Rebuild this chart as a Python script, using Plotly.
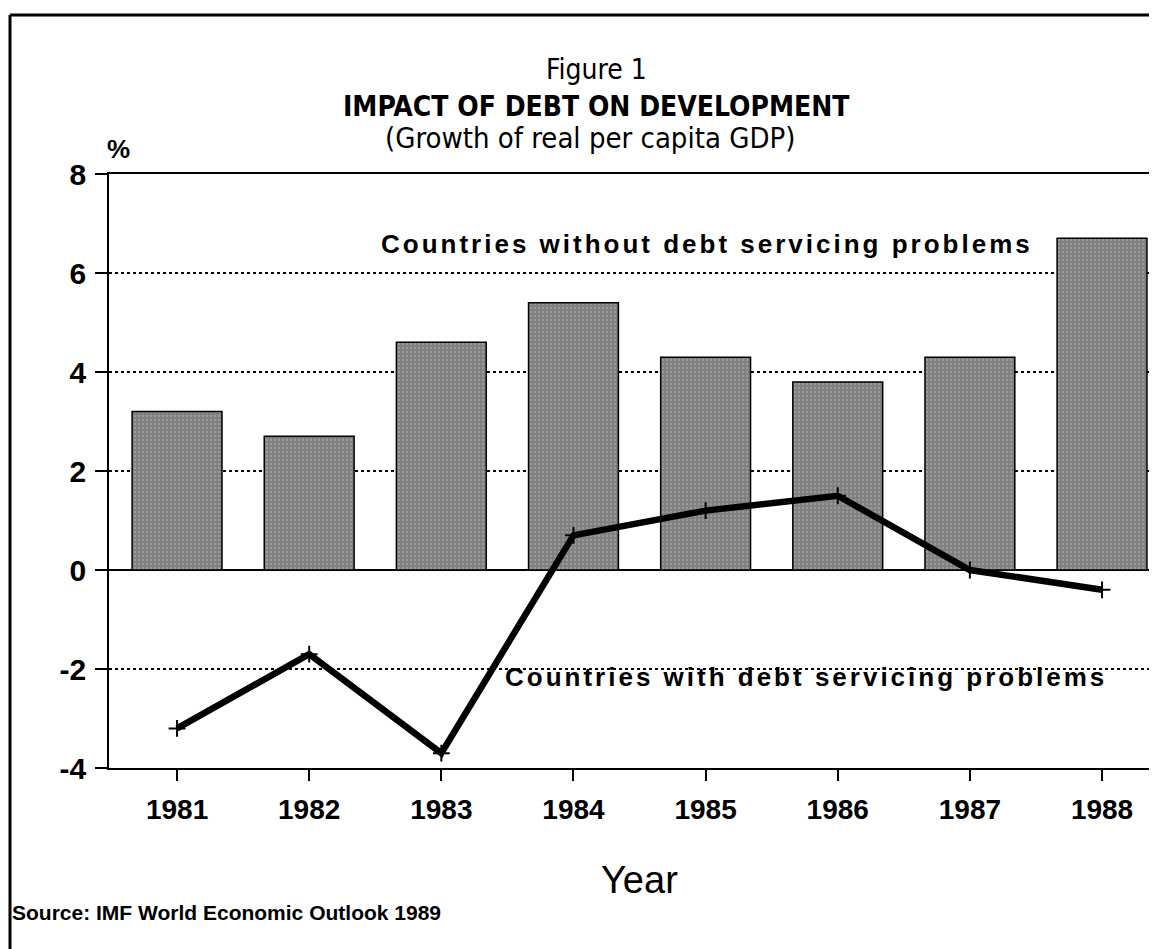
import plotly.graph_objects as go

years = ["1981", "1982", "1983", "1984", "1985", "1986", "1987", "1988"]
without_problems = [3.2, 2.7, 4.6, 5.4, 4.3, 3.8, 4.3, 6.7]
with_problems = [-3.2, -1.7, -3.7, 0.7, 1.2, 1.5, 0.0, -0.4]
y_ticks = [-4, -2, 0, 2, 4, 6, 8]
y_tick_labels = ["-4", "-2", "0", "2", "4", "6", "8"]

# page body has an 8px margin; work in reference-window pixels
OFF = 8
W, H = 1157 - OFF, 949 - OFF
L, T = 109 - OFF, 174 - OFF
R = 0
B = H - (768 - OFF)
PW, PH = W - L - R, H - T - B

def px(x):
    return (x - OFF - L) / PW

def py(y):
    return (H - B - (y - OFF)) / PH

FONT = "Liberation Sans, Arial, Helvetica, sans-serif"
NARROW = "Liberation Sans Narrow, Arial Narrow, DejaVu Sans Condensed, sans-serif"

fig = go.Figure()
fig.add_trace(go.Bar(
    x=list(range(len(years))), y=without_problems, width=0.68,
    marker=dict(color="#808080", line=dict(color="black", width=1.5),
                pattern=dict(shape=".", fgcolor="#b4b4b4", size=4, solidity=0.3)),
    showlegend=False,
))
fig.add_trace(go.Scatter(
    x=list(range(len(years))), y=with_problems, mode="lines+markers",
    line=dict(color="black", width=6.5),
    marker=dict(symbol="cross-thin", size=12, line=dict(color="black", width=2)),
    showlegend=False,
))

fig.update_xaxes(
    range=[-0.515, 7.416], tickmode="array", tickvals=list(range(len(years))), ticktext=years,
    showline=True, linecolor="black", linewidth=1.5, mirror=True,
    ticks="outside", ticklen=11, tickwidth=1.5, tickcolor="black",
    ticklabelstandoff=5,
    tickfont=dict(family=FONT, size=28, color="black", weight="bold"),
    showgrid=False, zeroline=False,
)
fig.update_yaxes(
    range=[-4, 8], tickmode="array", tickvals=y_ticks, ticktext=y_tick_labels,
    showline=True, linecolor="black", linewidth=1.5,
    ticks="outside", ticklen=12, tickwidth=1.5, tickcolor="black",
    ticklabelstandoff=3,
    tickfont=dict(family=FONT, size=30, color="black", weight="bold"),
    showgrid=True, gridcolor="black", gridwidth=1.5, griddash="dot",
    zeroline=True, zerolinecolor="black", zerolinewidth=1.5,
)

anns = [
    dict(text="Figure 1", x=px(596), y=py(70), font=dict(family=NARROW, size=28)),
    dict(text="<b>IMPACT OF DEBT ON DEVELOPMENT</b>", x=px(596), y=py(107), font=dict(family=NARROW, size=28)),
    dict(text="(Growth of real per capita GDP)", x=px(590), y=py(138), font=dict(family=NARROW, size=29)),
    dict(text="<b>%</b>", x=px(118), y=py(149), font=dict(family=FONT, size=26)),
    dict(text="Year", x=px(639), y=py(880), font=dict(family=FONT, size=38)),
    dict(text="<b>Source: IMF World Economic Outlook 1989</b>",
         x=px(10), y=py(912), xanchor="left", font=dict(family=FONT, size=21)),
]
for a in anns:
    a.setdefault("xanchor", "center")
    fig.add_annotation(xref="paper", yref="paper", yanchor="middle", showarrow=False,
                       font_color="black", **a)

fig.add_annotation(xref="x", yref="y", x=4.01, y=6.59, showarrow=False,
                   text="<b><span style='letter-spacing:3px'>Countries without debt servicing problems</span></b>",
                   font=dict(family=FONT, size=26, color="black"))
fig.add_annotation(xref="x", yref="y", x=4.76, y=-2.16, showarrow=False,
                   text="<b><span style='letter-spacing:3px'>Countries with debt servicing problems</span></b>",
                   font=dict(family=FONT, size=26, color="black"))

# outer frame
fig.add_shape(type="line", xref="paper", yref="paper", x0=px(10), x1=px(10), y0=py(15), y1=py(949),
              line=dict(color="black", width=3))
fig.add_shape(type="line", xref="paper", yref="paper", x0=px(10), x1=px(1157), y0=py(15), y1=py(15),
              line=dict(color="black", width=3))

fig.update_layout(
    width=W, height=H, margin=dict(l=L, r=R, t=T, b=B),
    paper_bgcolor="white", plot_bgcolor="white",
    font=dict(family=FONT, color="black"),
)
fig.write_html("out.html")
